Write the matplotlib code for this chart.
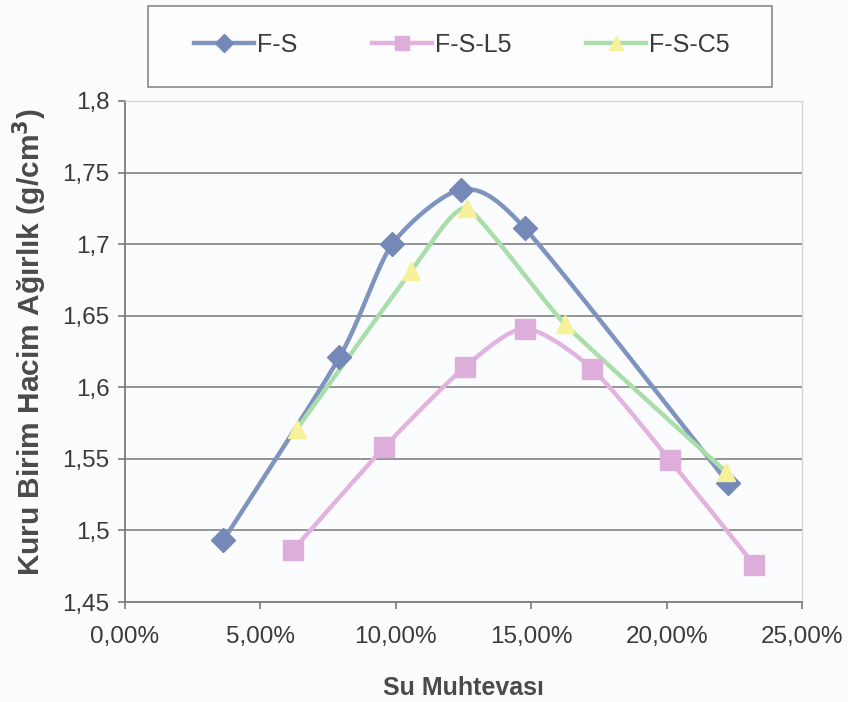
import numpy as np
import matplotlib
matplotlib.use("Agg")
import matplotlib.pyplot as plt
from matplotlib.patches import Rectangle
from matplotlib.lines import Line2D

plt.rcParams['font.family'] = ['Liberation Sans', 'DejaVu Sans']

# Su muhtevası (%) ve kuru birim hacim ağırlık (g/cm3)
fs_x = [3.63, 7.92, 9.87, 12.41, 14.77, 22.28]
fs_y = [1.493, 1.621, 1.700, 1.738, 1.711, 1.533]

fsl5_x = [6.19, 9.57, 12.54, 14.77, 17.24, 20.13, 23.23]
fsl5_y = [1.486, 1.558, 1.614, 1.641, 1.613, 1.549, 1.476]

fsc5_x = [6.35, 10.56, 12.62, 16.25, 22.19]
fsc5_y = [1.571, 1.681, 1.725, 1.644, 1.541]

series_names = ["F-S", "F-S-L5", "F-S-C5"]
x_ticks = [0, 5, 10, 15, 20, 25]
y_ticks = [1.45, 1.5, 1.55, 1.6, 1.65, 1.7, 1.75, 1.8]

XMIN, XMAX = 0, 25
YMIN, YMAX = 1.45, 1.8

W, H = 848, 702
fig = plt.figure(figsize=(W / 100, H / 100), dpi=100)
fig.patch.set_facecolor('#fcfcfc')

L, R, T, B = 125, 802, 101, 602
ax = fig.add_axes([L / W, 1 - B / H, (R - L) / W, (B - T) / H])
ax.set_facecolor('#fbfcfd')
ax.set_xlim(XMIN, XMAX)
ax.set_ylim(YMIN, YMAX)


def smooth(xs, ys, tension=1 / 8, n=40):
    """Bezier smoothing through the points, computed in screen proportions."""
    sx = (R - L) / (XMAX - XMIN)
    sy = (B - T) / (YMAX - YMIN)
    P = np.column_stack([(np.asarray(xs) - XMIN) * sx, (np.asarray(ys) - YMIN) * sy])
    Pext = np.vstack([P[0], P, P[-1]])
    out = [P[0]]
    t = np.linspace(0, 1, n)[1:, None]
    for i in range(len(P) - 1):
        p0, p1, p2, p3 = Pext[i], Pext[i + 1], Pext[i + 2], Pext[i + 3]
        c1 = p1 + (p2 - p0) * tension
        c2 = p2 - (p3 - p1) * tension
        seg = ((1 - t) ** 3) * p1 + 3 * ((1 - t) ** 2) * t * c1 + 3 * (1 - t) * t ** 2 * c2 + t ** 3 * p2
        out.extend(seg)
    out = np.array(out)
    return out[:, 0] / sx + XMIN, out[:, 1] / sy + YMIN


grid_c = '#8c8c8c'
for yv in y_ticks[1:]:
    ax.axhline(yv, color=grid_c, lw=1.3, zorder=1)

blue, blue_m = '#7f93bf', '#7489b8'
pink, pink_m = '#e3b3e0', '#deaedb'
green, yellow = '#a9dda9', '#f7f29a'

cx, cy = smooth(fs_x, fs_y)
ax.plot(cx, cy, color=blue, lw=3.2, zorder=3, solid_capstyle='round')
ax.plot(fs_x, fs_y, ls='none', marker='D', ms=12, mfc=blue_m, mec=blue_m, zorder=4)

cx, cy = smooth(fsl5_x, fsl5_y)
ax.plot(cx, cy, color=pink, lw=3.2, zorder=3, solid_capstyle='round')
ax.plot(fsl5_x, fsl5_y, ls='none', marker='s', ms=14, mfc=pink_m, mec=pink_m, zorder=4)

cx, cy = smooth(fsc5_x, fsc5_y, tension=1 / 12)
ax.plot(cx, cy, color=green, lw=3.2, zorder=3, solid_capstyle='round')
ax.plot(fsc5_x, fsc5_y, ls='none', marker='^', ms=13, mfc=yellow, mec=yellow, zorder=5)

for side in ['top', 'right']:
    ax.spines[side].set_color('#d6d6d6')
    ax.spines[side].set_linewidth(1.0)
for side in ['left', 'bottom']:
    ax.spines[side].set_color('#7a7a7a')
    ax.spines[side].set_linewidth(1.3)

ax.set_xticks(x_ticks)
ax.set_xticklabels([f"{v:.2f}%".replace('.', ',') for v in x_ticks])
ax.set_yticks(y_ticks)
ax.set_yticklabels([f"{v:g}".replace('.', ',') for v in y_ticks])
ax.tick_params(axis='both', direction='out', length=5, width=1.2, color='#7a7a7a',
               labelsize=17.5, labelcolor='#3a3a3a')
ax.tick_params(axis='x', pad=12)
ax.tick_params(axis='y', pad=6)

fig.text(463 / W, 1 - 688 / H, "Su Muhtevası", ha='center', va='center',
         fontsize=18, fontweight='bold', color='#4a4a4a')
fig.text(30 / W, 1 - 342 / H, "Kuru Birim Hacim Ağırlık (g/cm$^{\\mathbf{3}}$)", ha='center', va='center',
         rotation=90, fontsize=21.5, fontweight='bold', color='#4a4a4a')

# legend box
fig.add_artist(Rectangle((148 / W, 1 - 87 / H), (772 - 148) / W, (87 - 6) / H,
                         transform=fig.transFigure, facecolor='#fdfdfd',
                         edgecolor='#8a8a8a', lw=1.2, zorder=0))
handles = [
    Line2D([], [], color=blue, lw=3.2, marker='D', ms=9, mfc=blue_m, mec=blue_m),
    Line2D([], [], color=pink, lw=3.2, marker='s', ms=10, mfc=pink_m, mec=pink_m),
    Line2D([], [], color=green, lw=3.2, marker='^', ms=10, mfc=yellow, mec=yellow),
]
fig.legend(handles, series_names, loc='center', bbox_to_anchor=(462 / W, 1 - 45 / H),
           ncol=3, frameon=False, fontsize=18, handlelength=2.4, handletextpad=0.1,
           columnspacing=3.0, labelcolor='#3a3a3a')

fig.savefig('out.png', dpi=100, facecolor=fig.get_facecolor())
